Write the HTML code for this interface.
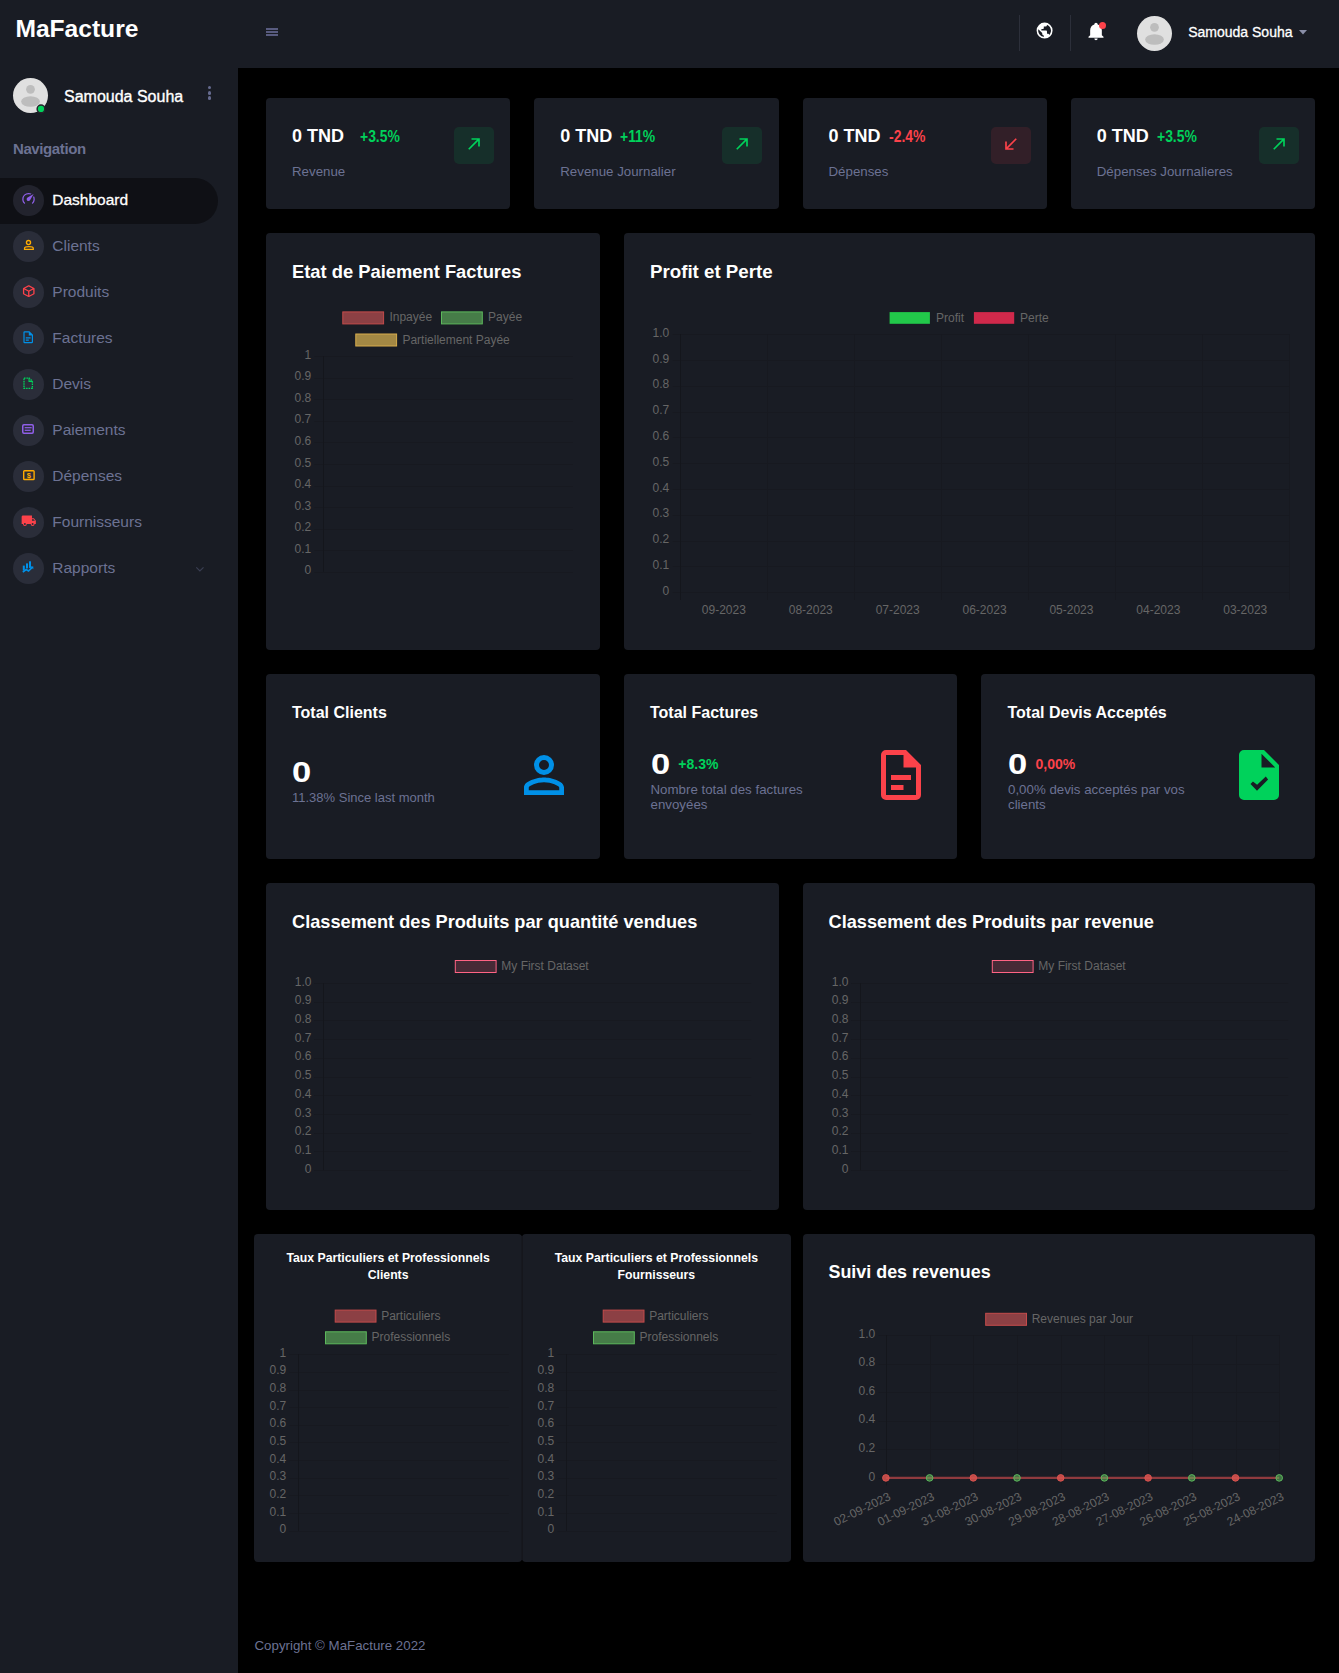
<!DOCTYPE html><html lang="fr"><head><meta charset="utf-8"><title>MaFacture - Dashboard</title>
<style>
*{margin:0;padding:0;box-sizing:border-box}
html,body{width:1339px;height:1673px;overflow:hidden;background:#000;font-family:"Liberation Sans",Arial,sans-serif}
.t{position:absolute;line-height:1;white-space:nowrap}
.b{position:absolute}
svg{position:absolute;overflow:visible}
.card{position:absolute;background:#191c24;border-radius:4px}
</style></head><body>

<div class="b" style="left:0px;top:0px;width:238px;height:1673px;background:#191c24;"></div>
<div class="b" style="left:0px;top:0px;width:1339px;height:68px;background:#191c24;"></div>
<div class="t" style="left:15.40px;top:16.78px;font-size:24.6px;color:#fff;font-weight:700;">MaFacture</div>
<div class="b" style="left:266px;top:28px;width:12px;height:2px;background:#585b7f;"></div>
<div class="b" style="left:266px;top:31px;width:12px;height:2px;background:#585b7f;"></div>
<div class="b" style="left:266px;top:34px;width:12px;height:2px;background:#585b7f;"></div>
<div class="b" style="left:1019px;top:15px;width:1px;height:36px;background:#2c2f3a;"></div>
<div class="b" style="left:1070px;top:15px;width:1px;height:36px;background:#2c2f3a;"></div>
<svg style="left:1035.4px;top:21.1px" width="19.2" height="19.2" viewBox="0 0 24 24"><path fill="#fff" d="M17.9,17.39C17.64,16.59 16.89,16 16,16H15V13A1,1 0 0,0 14,12H8V10H10A1,1 0 0,0 11,9V7H13A2,2 0 0,0 15,5V4.59C17.93,5.77 20,8.64 20,12C20,14.08 19.2,15.97 17.9,17.39M11,19.93C7.05,19.44 4,16.08 4,12C4,11.38 4.08,10.78 4.21,10.21L9,15V16A2,2 0 0,0 11,18M12,2A10,10 0 0,0 2,12A10,10 0 0,0 12,22A10,10 0 0,0 22,12A10,10 0 0,0 12,2Z"/></svg>
<svg style="left:1086px;top:21px" width="20" height="20" viewBox="0 0 24 24"><path fill="#fff" d="M21,19V20H3V19L5,17V11C5,7.9 7.03,5.17 10,4.29C10,4.19 10,4.1 10,4A2,2 0 0,1 12,2A2,2 0 0,1 14,4C14,4.1 14,4.19 14,4.29C16.97,5.17 19,7.9 19,11V17L21,19M14,21A2,2 0 0,1 12,23A2,2 0 0,1 10,21"/></svg>
<div class="b" style="left:1098.9px;top:21.9px;width:7px;height:7px;border-radius:50%;background:#fc424a"></div>
<svg style="left:1137.0px;top:15.799999999999997px" width="35.0" height="35.0" viewBox="0 0 35 35"><circle cx="17.5" cy="17.5" r="17.5" fill="#e0e0e0"/><circle cx="17.5" cy="11.3" r="4.4" fill="#bdbdbd"/><ellipse cx="17.5" cy="23.5" rx="9.4" ry="5.3" fill="#bdbdbd"/></svg>
<div class="t" style="left:1188.20px;top:24.95px;font-size:14px;color:#fff;font-weight:400;-webkit-text-stroke:0.3px #fff;">Samouda Souha</div>
<svg style="left:1299px;top:30px" width="8" height="4.5" viewBox="0 0 8 4.5"><path d="M0,0H8L4,4.5Z" fill="#8a8fa8"/></svg>
<svg style="left:13.0px;top:78.0px" width="35.0" height="35.0" viewBox="0 0 35 35"><circle cx="17.5" cy="17.5" r="17.5" fill="#e0e0e0"/><circle cx="17.5" cy="11.3" r="4.4" fill="#bdbdbd"/><ellipse cx="17.5" cy="23.5" rx="9.4" ry="5.3" fill="#bdbdbd"/></svg>
<svg style="left:35px;top:103px" width="12" height="12" viewBox="0 0 12 12"><circle cx="6" cy="5.9" r="3.85" fill="#00d25b" stroke="#25242c" stroke-width="1.5"/></svg>
<div class="t" style="left:64.00px;top:88.76px;font-size:16px;color:#fff;font-weight:400;-webkit-text-stroke:0.35px #fff;">Samouda Souha</div>
<div class="b" style="left:207.5px;top:86.1px;width:3.4px;height:3.4px;border-radius:50%;background:#666b8f"></div>
<div class="b" style="left:207.5px;top:91.2px;width:3.4px;height:3.4px;border-radius:50%;background:#666b8f"></div>
<div class="b" style="left:207.5px;top:96.2px;width:3.4px;height:3.4px;border-radius:50%;background:#666b8f"></div>
<div class="t" style="left:13.00px;top:140.60px;font-size:15px;color:#6c7293;font-weight:700;letter-spacing:-0.4px;">Navigation</div>
<div class="b" style="left:0;top:178px;width:218px;height:46px;background:#0f1015;border-radius:0 23px 23px 0"></div>
<div class="b" style="left:13px;top:185.0px;width:31px;height:31px;border-radius:50%;background:rgba(108,114,147,0.2)"></div>
<div class="t" style="left:52.30px;top:191.98px;font-size:15.5px;color:#fff;font-weight:400;-webkit-text-stroke:0.3px #fff;">Dashboard</div>
<div class="b" style="left:13px;top:231.0px;width:31px;height:31px;border-radius:50%;background:rgba(108,114,147,0.2)"></div>
<div class="t" style="left:52.30px;top:237.98px;font-size:15.5px;color:#6c7293;font-weight:400;">Clients</div>
<div class="b" style="left:13px;top:277.0px;width:31px;height:31px;border-radius:50%;background:rgba(108,114,147,0.2)"></div>
<div class="t" style="left:52.30px;top:283.98px;font-size:15.5px;color:#6c7293;font-weight:400;">Produits</div>
<div class="b" style="left:13px;top:323.0px;width:31px;height:31px;border-radius:50%;background:rgba(108,114,147,0.2)"></div>
<div class="t" style="left:52.30px;top:329.98px;font-size:15.5px;color:#6c7293;font-weight:400;">Factures</div>
<div class="b" style="left:13px;top:369.0px;width:31px;height:31px;border-radius:50%;background:rgba(108,114,147,0.2)"></div>
<div class="t" style="left:52.30px;top:375.98px;font-size:15.5px;color:#6c7293;font-weight:400;">Devis</div>
<div class="b" style="left:13px;top:415.0px;width:31px;height:31px;border-radius:50%;background:rgba(108,114,147,0.2)"></div>
<div class="t" style="left:52.30px;top:421.98px;font-size:15.5px;color:#6c7293;font-weight:400;">Paiements</div>
<div class="b" style="left:13px;top:461.0px;width:31px;height:31px;border-radius:50%;background:rgba(108,114,147,0.2)"></div>
<div class="t" style="left:52.30px;top:467.98px;font-size:15.5px;color:#6c7293;font-weight:400;">Dépenses</div>
<div class="b" style="left:13px;top:507.0px;width:31px;height:31px;border-radius:50%;background:rgba(108,114,147,0.2)"></div>
<div class="t" style="left:52.30px;top:513.98px;font-size:15.5px;color:#6c7293;font-weight:400;">Fournisseurs</div>
<div class="b" style="left:13px;top:553.0px;width:31px;height:31px;border-radius:50%;background:rgba(108,114,147,0.2)"></div>
<div class="t" style="left:52.30px;top:559.98px;font-size:15.5px;color:#6c7293;font-weight:400;">Rapports</div>
<svg style="left:20.9px;top:190.9px" width="15" height="15" viewBox="0 0 24 24"><path fill="#8f5fe8" d="M12,16A3,3 0 0,1 9,13C9,11.88 9.61,10.9 10.5,10.39L20.21,4.77L14.68,14.35C14.18,15.33 13.17,16 12,16M12,3C13.81,3 15.5,3.5 16.97,4.32L14.87,5.53C14,5.19 13,5 12,5A8,8 0 0,0 4,13C4,15.21 4.89,17.21 6.34,18.65H6.35C6.74,19.04 6.74,19.67 6.35,20.06C5.96,20.45 5.32,20.45 4.93,20.07V20.07C3.12,18.26 2,15.76 2,13A10,10 0 0,1 12,3M22,13C22,15.76 20.88,18.26 19.07,20.07V20.07C18.68,20.45 18.05,20.45 17.66,20.06C17.27,19.67 17.27,19.04 17.66,18.65V18.65C19.11,17.2 20,15.21 20,13C20,12 19.81,11 19.46,10.1L20.67,8C21.5,9.5 22,11.18 22,13Z"/></svg>
<svg style="left:20px;top:237px" width="17" height="16" viewBox="20 237 17 16"><circle cx="28.5" cy="242.5" r="2.05" fill="none" stroke="#ffab00" stroke-width="1.35"/><path d="M24.55,249.45V248.2C24.55,247.2 26.5,246.6 28.9,246.6C31.3,246.6 33.25,247.2 33.25,248.2V249.45Z" fill="none" stroke="#ffab00" stroke-width="1.3"/></svg>
<svg style="left:20.9px;top:283.9px" width="15.5" height="14.2" viewBox="0 0 24 24" preserveAspectRatio="none"><path fill="#fc424a" d="M21,16.5C21,16.88 20.79,17.21 20.47,17.38L12.57,21.82C12.41,21.94 12.21,22 12,22C11.79,22 11.59,21.94 11.43,21.82L3.53,17.38C3.21,17.21 3,16.88 3,16.5V7.5C3,7.12 3.21,6.79 3.53,6.62L11.43,2.18C11.59,2.06 11.79,2 12,2C12.21,2 12.41,2.06 12.57,2.18L20.47,6.62C20.79,6.79 21,7.12 21,7.5V16.5M12,4.15L6.04,7.5L12,10.85L17.96,7.5L12,4.15M5,15.91L11,19.29V12.58L5,9.21V15.91M19,15.91V9.21L13,12.58V19.29L19,15.91Z"/></svg>
<svg style="left:21px;top:329.8px" width="14.4" height="14.4" viewBox="0 0 24 24"><path fill="#0090e7" d="M6,2A2,2 0 0,0 4,4V20A2,2 0 0,0 6,22H18A2,2 0 0,0 20,20V8L14,2H6M6,4H13V9H18V20H6V4M8,12V14H16V12H8M8,16V18H13V16H8Z"/></svg>
<svg style="left:21.2px;top:375.8px" width="14.4" height="14.4" viewBox="0 0 24 24"><path fill="none" stroke="#00d25b" stroke-width="2.2" stroke-dasharray="2.6 1.4" d="M5,3.4H13.6L19,8.8V20.6H5Z"/><path fill="#00d25b" d="M12.5,3H14.3V8H19V10H12.5Z"/></svg>
<svg style="left:22.2px;top:423.9px" width="12" height="10" viewBox="0 12 10"><rect x="0.75" y="0.75" width="10.5" height="8.5" rx="1.2" fill="none" stroke="#8f5fe8" stroke-width="1.5"/><rect x="2.7" y="3.1" width="7" height="1.2" fill="#8f5fe8"/><rect x="2.7" y="5.7" width="6" height="1.2" fill="#8f5fe8"/></svg>
<svg style="left:22.9px;top:469.9px" width="11.8" height="10.2" viewBox="0 11.8 10.2"><rect x="0.7" y="0.7" width="10.4" height="8.8" rx="0.8" fill="none" stroke="#ffab00" stroke-width="1.4"/><text x="5.9" y="8.1" font-size="7.5" font-weight="700" text-anchor="middle" fill="#ffab00" font-family="Liberation Sans, sans-serif">$</text></svg>
<svg style="left:21.35px;top:513.3px" width="15.5" height="15.5" viewBox="0 0 24 24"><path fill="#fc424a" d="M18,18.5A1.5,1.5 0 0,1 16.5,17A1.5,1.5 0 0,1 18,15.5A1.5,1.5 0 0,1 19.5,17A1.5,1.5 0 0,1 18,18.5M19.5,9.5L21.46,12H17V9.5M6,18.5A1.5,1.5 0 0,1 4.5,17A1.5,1.5 0 0,1 6,15.5A1.5,1.5 0 0,1 7.5,17A1.5,1.5 0 0,1 6,18.5M20,8H17V4H3C1.89,4 1,4.89 1,6V17H3A3,3 0 0,0 6,20A3,3 0 0,0 9,17H15A3,3 0 0,0 18,20A3,3 0 0,0 21,17H23V12L20,8Z"/></svg>
<svg style="left:22.3px;top:561px" width="12.5" height="12.5" viewBox="0 12 12"><rect x="0.8" y="4.6" width="2" height="5" fill="#0090e7"/><rect x="4" y="2.4" width="2" height="5" fill="#0090e7"/><rect x="7" y="0.3" width="2" height="6.6" fill="#0090e7"/><path d="M0.8,11.2L4.2,8.5L6.5,10L10.5,6.2" fill="none" stroke="#0090e7" stroke-width="1.6"/><path d="M8.6,5.5H11.3V8.2Z" fill="#0090e7"/></svg>
<svg style="left:195px;top:566px" width="10" height="6" viewBox="0 0 10 6"><path d="M1.3,1.3L4.9,4.9L8.5,1.3" fill="none" stroke="#3a3e52" stroke-width="1.2"/></svg>
<div class="card" style="left:266px;top:98px;width:244.25px;height:110.80000000000001px"></div>
<div class="card" style="left:534.25px;top:98px;width:244.25px;height:110.80000000000001px"></div>
<div class="card" style="left:802.5px;top:98px;width:244.25px;height:110.80000000000001px"></div>
<div class="card" style="left:1070.75px;top:98px;width:244.25px;height:110.80000000000001px"></div>
<div class="card" style="left:266px;top:233px;width:333.66999999999996px;height:417px"></div>
<div class="card" style="left:623.67px;top:233px;width:691.33px;height:417px"></div>
<div class="card" style="left:266px;top:674px;width:333.66999999999996px;height:184.79999999999995px"></div>
<div class="card" style="left:623.67px;top:674px;width:333.6600000000001px;height:184.79999999999995px"></div>
<div class="card" style="left:981.33px;top:674px;width:333.66999999999996px;height:184.79999999999995px"></div>
<div class="card" style="left:266px;top:883px;width:512.5px;height:327px"></div>
<div class="card" style="left:802.5px;top:883px;width:512.5px;height:327px"></div>
<div class="card" style="left:254px;top:1234px;width:268.25px;height:328px"></div>
<div class="card" style="left:522.25px;top:1234px;width:268.25px;height:328px"></div>
<div class="card" style="left:802.5px;top:1234px;width:512.5px;height:328px"></div>
<div class="b" style="left:521px;top:1236px;width:1px;height:324px;background:#16181f"></div>
<div class="b" style="left:522px;top:1236px;width:1px;height:324px;background:#15161c"></div>
<div class="t" style="left:292.00px;top:127.46px;font-size:18px;color:#fff;font-weight:700;">0 TND</div>
<div class="t" style="left:360.00px;top:129.26px;font-size:16px;color:#00d25b;font-weight:700;transform:scaleX(0.87);transform-origin:0 0;">+3.5%</div>
<div class="t" style="left:292.00px;top:165.14px;font-size:13.3px;color:#6c7293;font-weight:400;">Revenue</div>
<div class="b" style="left:454px;top:126.8px;width:40px;height:37px;border-radius:5px;background:rgba(0,210,91,0.11)"></div>
<svg style="left:464px;top:133.9px" width="20" height="20" viewBox="0 0 24 24"><path fill="#00d25b" d="M5,17.59L15.59,7H9V5H19V15H17V8.41L6.41,19L5,17.59Z"/></svg>
<div class="t" style="left:560.25px;top:127.46px;font-size:18px;color:#fff;font-weight:700;">0 TND</div>
<div class="t" style="left:619.95px;top:129.26px;font-size:16px;color:#00d25b;font-weight:700;transform:scaleX(0.87);transform-origin:0 0;">+11%</div>
<div class="t" style="left:560.25px;top:165.14px;font-size:13.3px;color:#6c7293;font-weight:400;">Revenue Journalier</div>
<div class="b" style="left:722.25px;top:126.8px;width:40px;height:37px;border-radius:5px;background:rgba(0,210,91,0.11)"></div>
<svg style="left:732.25px;top:133.9px" width="20" height="20" viewBox="0 0 24 24"><path fill="#00d25b" d="M5,17.59L15.59,7H9V5H19V15H17V8.41L6.41,19L5,17.59Z"/></svg>
<div class="t" style="left:828.50px;top:127.46px;font-size:18px;color:#fff;font-weight:700;">0 TND</div>
<div class="t" style="left:889.00px;top:129.26px;font-size:16px;color:#fc424a;font-weight:700;transform:scaleX(0.87);transform-origin:0 0;">-2.4%</div>
<div class="t" style="left:828.50px;top:165.14px;font-size:13.3px;color:#6c7293;font-weight:400;">Dépenses</div>
<div class="b" style="left:990.5px;top:126.8px;width:40px;height:37px;border-radius:5px;background:rgba(252,66,74,0.11)"></div>
<svg style="left:1000.5px;top:133.9px" width="20" height="20" viewBox="0 0 24 24"><path fill="#fc424a" d="M19,6.41L17.59,5L7,15.59V9H5V19H15V17H8.41L19,6.41Z"/></svg>
<div class="t" style="left:1096.75px;top:127.46px;font-size:18px;color:#fff;font-weight:700;">0 TND</div>
<div class="t" style="left:1156.95px;top:129.26px;font-size:16px;color:#00d25b;font-weight:700;transform:scaleX(0.87);transform-origin:0 0;">+3.5%</div>
<div class="t" style="left:1096.75px;top:165.14px;font-size:13.3px;color:#6c7293;font-weight:400;">Dépenses Journalieres</div>
<div class="b" style="left:1258.75px;top:126.8px;width:40px;height:37px;border-radius:5px;background:rgba(0,210,91,0.11)"></div>
<svg style="left:1268.75px;top:133.9px" width="20" height="20" viewBox="0 0 24 24"><path fill="#00d25b" d="M5,17.59L15.59,7H9V5H19V15H17V8.41L6.41,19L5,17.59Z"/></svg>
<div class="t" style="left:292.00px;top:262.87px;font-size:18.35px;color:#fff;font-weight:700;">Etat de Paiement Factures</div>
<div class="t" style="left:650.00px;top:262.67px;font-size:18.7px;color:#fff;font-weight:700;">Profit et Perte</div>
<div class="t" style="left:292.00px;top:704.76px;font-size:16px;color:#fff;font-weight:700;">Total Clients</div>
<div class="t" style="left:650.00px;top:704.76px;font-size:16px;color:#fff;font-weight:700;">Total Factures</div>
<div class="t" style="left:1007.50px;top:704.76px;font-size:16px;color:#fff;font-weight:700;">Total Devis Acceptés</div>
<div class="t" style="left:292.30px;top:756.71px;font-size:30px;color:#fff;font-weight:700;transform:scaleX(1.15);transform-origin:0 0;">0</div>
<div class="t" style="left:292.00px;top:790.70px;font-size:13px;color:#6c7293;font-weight:400;">11.38% Since last month</div>
<div class="t" style="left:650.60px;top:748.71px;font-size:30px;color:#fff;font-weight:700;transform:scaleX(1.15);transform-origin:0 0;">0</div>
<div class="t" style="left:678.30px;top:756.65px;font-size:14px;color:#00d25b;font-weight:700;">+8.3%</div>
<div class="t" style="left:650.50px;top:782.54px;font-size:13.3px;color:#6c7293;font-weight:400;">Nombre total des factures</div>
<div class="t" style="left:650.50px;top:798.04px;font-size:13.3px;color:#6c7293;font-weight:400;">envoyées</div>
<div class="t" style="left:1008.00px;top:748.71px;font-size:30px;color:#fff;font-weight:700;transform:scaleX(1.15);transform-origin:0 0;">0</div>
<div class="t" style="left:1035.50px;top:756.65px;font-size:14px;color:#fc424a;font-weight:700;">0,00%</div>
<div class="t" style="left:1008.00px;top:782.54px;font-size:13.3px;color:#6c7293;font-weight:400;">0,00% devis acceptés par vos</div>
<div class="t" style="left:1008.00px;top:798.04px;font-size:13.3px;color:#6c7293;font-weight:400;">clients</div>
<svg style="left:513.7px;top:745px" width="60" height="60" viewBox="0 0 24 24"><path fill="#0090e7" d="M12,4A4,4 0 0,1 16,8A4,4 0 0,1 12,12A4,4 0 0,1 8,8A4,4 0 0,1 12,4M12,6A2,2 0 0,0 10,8A2,2 0 0,0 12,10A2,2 0 0,0 14,8A2,2 0 0,0 12,6M12,13C14.67,13 20,14.33 20,17V20H4V17C4,14.33 9.33,13 12,13M12,14.9C9.03,14.9 5.9,16.36 5.9,17V18.1H18.1V17C18.1,16.36 14.97,14.9 12,14.9Z"/></svg>
<svg style="left:871.2px;top:744.8px" width="60" height="60" viewBox="0 0 24 24"><path fill="#fc424a" d="M6,2A2,2 0 0,0 4,4V20A2,2 0 0,0 6,22H18A2,2 0 0,0 20,20V8L14,2H6M6,4H13V9H18V20H6V4M8,12V14H16V12H8M8,16V18H13V16H8Z"/></svg>
<svg style="left:1229px;top:744.8px" width="60" height="60" viewBox="0 0 24 24"><path fill="#00d25b" d="M14,2H6A2,2 0 0,0 4,4V20A2,2 0 0,0 6,22H18A2,2 0 0,0 20,20V8L14,2M13,9V3.5L18.5,9H13Z"/><path fill="#191c24" d="M8.6,15.56L11.2,18.28L15.64,13.8L14.72,12.6L11.24,15.92L9.58,14.64Z"/></svg>
<div class="t" style="left:292.00px;top:913.39px;font-size:18.2px;color:#fff;font-weight:700;">Classement des Produits par quantité vendues</div>
<div class="t" style="left:828.50px;top:913.39px;font-size:18.2px;color:#fff;font-weight:700;">Classement des Produits par revenue</div>
<div class="t" style="left:258.10px;width:260px;text-align:center;top:1252.43px;font-size:12.25px;color:#fff;font-weight:700;">Taux Particuliers et Professionnels</div>
<div class="t" style="left:258.10px;width:260px;text-align:center;top:1268.93px;font-size:12.25px;color:#fff;font-weight:700;">Clients</div>
<div class="t" style="left:526.40px;width:260px;text-align:center;top:1252.43px;font-size:12.25px;color:#fff;font-weight:700;">Taux Particuliers et Professionnels</div>
<div class="t" style="left:526.40px;width:260px;text-align:center;top:1268.93px;font-size:12.25px;color:#fff;font-weight:700;">Fournisseurs</div>
<div class="t" style="left:828.50px;top:1264.45px;font-size:17.9px;color:#fff;font-weight:700;">Suivi des revenues</div>
<div class="t" style="left:254.50px;top:1639.14px;font-size:13.3px;color:#6c7293;font-weight:400;">Copyright © MaFacture 2022</div>
<svg style="left:0;top:0" width="1339" height="1673" viewBox="0 0 1339 1673" font-family="Liberation Sans, Arial, sans-serif" font-size="12" fill="#666"><rect x="342.80" y="311.90" width="40.8" height="12" fill="rgba(255,99,99,0.5)" stroke="#c44b4b" stroke-width="1"/><text x="389.40" y="321.40" text-anchor="start" >Inpayée</text><rect x="441.50" y="311.90" width="40.8" height="12" fill="#467c48" stroke="#5cb85c" stroke-width="1"/><text x="488.10" y="321.40" text-anchor="start" >Payée</text><rect x="355.80" y="334.00" width="40.8" height="12" fill="#a38844" stroke="#d8ac4c" stroke-width="1"/><text x="402.40" y="343.50" text-anchor="start" >Partiellement Payée</text><line x1="314.40" y1="356.50" x2="573.00" y2="356.50" stroke="#171920" stroke-width="1"/><text x="311.30" y="358.80" text-anchor="end" >1</text><line x1="314.40" y1="378.50" x2="573.00" y2="378.50" stroke="#171920" stroke-width="1"/><text x="311.30" y="380.35" text-anchor="end" >0.9</text><line x1="314.40" y1="399.50" x2="573.00" y2="399.50" stroke="#171920" stroke-width="1"/><text x="311.30" y="401.90" text-anchor="end" >0.8</text><line x1="314.40" y1="421.50" x2="573.00" y2="421.50" stroke="#171920" stroke-width="1"/><text x="311.30" y="423.45" text-anchor="end" >0.7</text><line x1="314.40" y1="442.50" x2="573.00" y2="442.50" stroke="#171920" stroke-width="1"/><text x="311.30" y="445.00" text-anchor="end" >0.6</text><line x1="314.40" y1="464.50" x2="573.00" y2="464.50" stroke="#171920" stroke-width="1"/><text x="311.30" y="466.55" text-anchor="end" >0.5</text><line x1="314.40" y1="486.50" x2="573.00" y2="486.50" stroke="#171920" stroke-width="1"/><text x="311.30" y="488.10" text-anchor="end" >0.4</text><line x1="314.40" y1="507.50" x2="573.00" y2="507.50" stroke="#171920" stroke-width="1"/><text x="311.30" y="509.65" text-anchor="end" >0.3</text><line x1="314.40" y1="529.50" x2="573.00" y2="529.50" stroke="#171920" stroke-width="1"/><text x="311.30" y="531.20" text-anchor="end" >0.2</text><line x1="314.40" y1="550.50" x2="573.00" y2="550.50" stroke="#171920" stroke-width="1"/><text x="311.30" y="552.75" text-anchor="end" >0.1</text><line x1="314.40" y1="572.50" x2="573.00" y2="572.50" stroke="#171920" stroke-width="1"/><text x="311.30" y="574.30" text-anchor="end" >0</text><line x1="323.50" y1="356.20" x2="323.50" y2="571.70" stroke="#14161c" stroke-width="1"/><rect x="889.60" y="312.10" width="40.3" height="11.7" fill="#22c84a"/><text x="936.00" y="321.60" text-anchor="start" >Profit</text><rect x="973.90" y="312.10" width="40.3" height="11.7" fill="#d0294b"/><text x="1020.00" y="321.60" text-anchor="start" >Perte</text><line x1="672.80" y1="334.50" x2="1288.70" y2="334.50" stroke="#171920" stroke-width="1"/><text x="669.20" y="336.80" text-anchor="end" >1.0</text><line x1="672.80" y1="360.50" x2="1288.70" y2="360.50" stroke="#171920" stroke-width="1"/><text x="669.20" y="362.59" text-anchor="end" >0.9</text><line x1="672.80" y1="386.50" x2="1288.70" y2="386.50" stroke="#171920" stroke-width="1"/><text x="669.20" y="388.38" text-anchor="end" >0.8</text><line x1="672.80" y1="412.50" x2="1288.70" y2="412.50" stroke="#171920" stroke-width="1"/><text x="669.20" y="414.17" text-anchor="end" >0.7</text><line x1="672.80" y1="437.50" x2="1288.70" y2="437.50" stroke="#171920" stroke-width="1"/><text x="669.20" y="439.96" text-anchor="end" >0.6</text><line x1="672.80" y1="463.50" x2="1288.70" y2="463.50" stroke="#171920" stroke-width="1"/><text x="669.20" y="465.75" text-anchor="end" >0.5</text><line x1="672.80" y1="489.50" x2="1288.70" y2="489.50" stroke="#171920" stroke-width="1"/><text x="669.20" y="491.54" text-anchor="end" >0.4</text><line x1="672.80" y1="515.50" x2="1288.70" y2="515.50" stroke="#171920" stroke-width="1"/><text x="669.20" y="517.33" text-anchor="end" >0.3</text><line x1="672.80" y1="541.50" x2="1288.70" y2="541.50" stroke="#171920" stroke-width="1"/><text x="669.20" y="543.12" text-anchor="end" >0.2</text><line x1="672.80" y1="566.50" x2="1288.70" y2="566.50" stroke="#171920" stroke-width="1"/><text x="669.20" y="568.91" text-anchor="end" >0.1</text><line x1="672.80" y1="592.50" x2="1288.70" y2="592.50" stroke="#171920" stroke-width="1"/><text x="669.20" y="594.70" text-anchor="end" >0</text><line x1="680.50" y1="334.20" x2="680.50" y2="592.10" stroke="#14161c" stroke-width="1"/><line x1="680.50" y1="334.20" x2="680.50" y2="600.00" stroke="#14161c" stroke-width="1"/><line x1="767.50" y1="334.20" x2="767.50" y2="600.00" stroke="#171920" stroke-width="1"/><line x1="854.50" y1="334.20" x2="854.50" y2="600.00" stroke="#171920" stroke-width="1"/><line x1="941.50" y1="334.20" x2="941.50" y2="600.00" stroke="#171920" stroke-width="1"/><line x1="1028.50" y1="334.20" x2="1028.50" y2="600.00" stroke="#171920" stroke-width="1"/><line x1="1115.50" y1="334.20" x2="1115.50" y2="600.00" stroke="#171920" stroke-width="1"/><line x1="1202.50" y1="334.20" x2="1202.50" y2="600.00" stroke="#171920" stroke-width="1"/><line x1="1289.50" y1="334.20" x2="1289.50" y2="600.00" stroke="#171920" stroke-width="1"/><text x="723.85" y="613.80" text-anchor="middle" >09-2023</text><text x="810.75" y="613.80" text-anchor="middle" >08-2023</text><text x="897.65" y="613.80" text-anchor="middle" >07-2023</text><text x="984.55" y="613.80" text-anchor="middle" >06-2023</text><text x="1071.45" y="613.80" text-anchor="middle" >05-2023</text><text x="1158.35" y="613.80" text-anchor="middle" >04-2023</text><text x="1245.25" y="613.80" text-anchor="middle" >03-2023</text><rect x="455.30" y="960.50" width="40.8" height="12" fill="rgba(255,99,132,0.2)" stroke="rgb(255,99,132)" stroke-width="1"/><text x="501.30" y="970.20" text-anchor="start" >My First Dataset</text><line x1="314.10" y1="983.50" x2="751.10" y2="983.50" stroke="#171920" stroke-width="1"/><text x="311.40" y="985.60" text-anchor="end" >1.0</text><line x1="314.10" y1="1002.50" x2="751.10" y2="1002.50" stroke="#171920" stroke-width="1"/><text x="311.40" y="1004.31" text-anchor="end" >0.9</text><line x1="314.10" y1="1020.50" x2="751.10" y2="1020.50" stroke="#171920" stroke-width="1"/><text x="311.40" y="1023.01" text-anchor="end" >0.8</text><line x1="314.10" y1="1039.50" x2="751.10" y2="1039.50" stroke="#171920" stroke-width="1"/><text x="311.40" y="1041.71" text-anchor="end" >0.7</text><line x1="314.10" y1="1058.50" x2="751.10" y2="1058.50" stroke="#171920" stroke-width="1"/><text x="311.40" y="1060.42" text-anchor="end" >0.6</text><line x1="314.10" y1="1077.50" x2="751.10" y2="1077.50" stroke="#171920" stroke-width="1"/><text x="311.40" y="1079.12" text-anchor="end" >0.5</text><line x1="314.10" y1="1095.50" x2="751.10" y2="1095.50" stroke="#171920" stroke-width="1"/><text x="311.40" y="1097.83" text-anchor="end" >0.4</text><line x1="314.10" y1="1114.50" x2="751.10" y2="1114.50" stroke="#171920" stroke-width="1"/><text x="311.40" y="1116.53" text-anchor="end" >0.3</text><line x1="314.10" y1="1133.50" x2="751.10" y2="1133.50" stroke="#171920" stroke-width="1"/><text x="311.40" y="1135.24" text-anchor="end" >0.2</text><line x1="314.10" y1="1151.50" x2="751.10" y2="1151.50" stroke="#171920" stroke-width="1"/><text x="311.40" y="1153.94" text-anchor="end" >0.1</text><line x1="314.10" y1="1170.50" x2="751.10" y2="1170.50" stroke="#171920" stroke-width="1"/><text x="311.40" y="1172.65" text-anchor="end" >0</text><line x1="323.50" y1="983.00" x2="323.50" y2="1170.05" stroke="#14161c" stroke-width="1"/><rect x="992.30" y="960.50" width="40.8" height="12" fill="rgba(255,99,132,0.2)" stroke="rgb(255,99,132)" stroke-width="1"/><text x="1038.30" y="970.20" text-anchor="start" >My First Dataset</text><line x1="851.10" y1="983.50" x2="1288.10" y2="983.50" stroke="#171920" stroke-width="1"/><text x="848.40" y="985.60" text-anchor="end" >1.0</text><line x1="851.10" y1="1002.50" x2="1288.10" y2="1002.50" stroke="#171920" stroke-width="1"/><text x="848.40" y="1004.31" text-anchor="end" >0.9</text><line x1="851.10" y1="1020.50" x2="1288.10" y2="1020.50" stroke="#171920" stroke-width="1"/><text x="848.40" y="1023.01" text-anchor="end" >0.8</text><line x1="851.10" y1="1039.50" x2="1288.10" y2="1039.50" stroke="#171920" stroke-width="1"/><text x="848.40" y="1041.71" text-anchor="end" >0.7</text><line x1="851.10" y1="1058.50" x2="1288.10" y2="1058.50" stroke="#171920" stroke-width="1"/><text x="848.40" y="1060.42" text-anchor="end" >0.6</text><line x1="851.10" y1="1077.50" x2="1288.10" y2="1077.50" stroke="#171920" stroke-width="1"/><text x="848.40" y="1079.12" text-anchor="end" >0.5</text><line x1="851.10" y1="1095.50" x2="1288.10" y2="1095.50" stroke="#171920" stroke-width="1"/><text x="848.40" y="1097.83" text-anchor="end" >0.4</text><line x1="851.10" y1="1114.50" x2="1288.10" y2="1114.50" stroke="#171920" stroke-width="1"/><text x="848.40" y="1116.53" text-anchor="end" >0.3</text><line x1="851.10" y1="1133.50" x2="1288.10" y2="1133.50" stroke="#171920" stroke-width="1"/><text x="848.40" y="1135.24" text-anchor="end" >0.2</text><line x1="851.10" y1="1151.50" x2="1288.10" y2="1151.50" stroke="#171920" stroke-width="1"/><text x="848.40" y="1153.94" text-anchor="end" >0.1</text><line x1="851.10" y1="1170.50" x2="1288.10" y2="1170.50" stroke="#171920" stroke-width="1"/><text x="848.40" y="1172.65" text-anchor="end" >0</text><line x1="860.50" y1="983.00" x2="860.50" y2="1170.05" stroke="#14161c" stroke-width="1"/><rect x="335.20" y="1310.10" width="40.8" height="12" fill="rgba(255,99,99,0.5)" stroke="#c44b4b" stroke-width="1"/><text x="381.20" y="1319.60" text-anchor="start" >Particuliers</text><rect x="325.50" y="1331.80" width="40.8" height="12" fill="#467c48" stroke="#5cb85c" stroke-width="1"/><text x="371.50" y="1341.30" text-anchor="start" >Professionnels</text><line x1="289.50" y1="1354.50" x2="508.60" y2="1354.50" stroke="#171920" stroke-width="1"/><text x="286.20" y="1356.80" text-anchor="end" >1</text><line x1="289.50" y1="1372.50" x2="508.60" y2="1372.50" stroke="#171920" stroke-width="1"/><text x="286.20" y="1374.46" text-anchor="end" >0.9</text><line x1="289.50" y1="1390.50" x2="508.60" y2="1390.50" stroke="#171920" stroke-width="1"/><text x="286.20" y="1392.12" text-anchor="end" >0.8</text><line x1="289.50" y1="1407.50" x2="508.60" y2="1407.50" stroke="#171920" stroke-width="1"/><text x="286.20" y="1409.78" text-anchor="end" >0.7</text><line x1="289.50" y1="1425.50" x2="508.60" y2="1425.50" stroke="#171920" stroke-width="1"/><text x="286.20" y="1427.44" text-anchor="end" >0.6</text><line x1="289.50" y1="1442.50" x2="508.60" y2="1442.50" stroke="#171920" stroke-width="1"/><text x="286.20" y="1445.10" text-anchor="end" >0.5</text><line x1="289.50" y1="1460.50" x2="508.60" y2="1460.50" stroke="#171920" stroke-width="1"/><text x="286.20" y="1462.76" text-anchor="end" >0.4</text><line x1="289.50" y1="1478.50" x2="508.60" y2="1478.50" stroke="#171920" stroke-width="1"/><text x="286.20" y="1480.42" text-anchor="end" >0.3</text><line x1="289.50" y1="1495.50" x2="508.60" y2="1495.50" stroke="#171920" stroke-width="1"/><text x="286.20" y="1498.08" text-anchor="end" >0.2</text><line x1="289.50" y1="1513.50" x2="508.60" y2="1513.50" stroke="#171920" stroke-width="1"/><text x="286.20" y="1515.74" text-anchor="end" >0.1</text><line x1="289.50" y1="1531.50" x2="508.60" y2="1531.50" stroke="#171920" stroke-width="1"/><text x="286.20" y="1533.40" text-anchor="end" >0</text><line x1="298.50" y1="1354.20" x2="298.50" y2="1530.80" stroke="#14161c" stroke-width="1"/><rect x="603.20" y="1310.10" width="40.8" height="12" fill="rgba(255,99,99,0.5)" stroke="#c44b4b" stroke-width="1"/><text x="649.20" y="1319.60" text-anchor="start" >Particuliers</text><rect x="593.50" y="1331.80" width="40.8" height="12" fill="#467c48" stroke="#5cb85c" stroke-width="1"/><text x="639.50" y="1341.30" text-anchor="start" >Professionnels</text><line x1="557.50" y1="1354.50" x2="776.60" y2="1354.50" stroke="#171920" stroke-width="1"/><text x="554.20" y="1356.80" text-anchor="end" >1</text><line x1="557.50" y1="1372.50" x2="776.60" y2="1372.50" stroke="#171920" stroke-width="1"/><text x="554.20" y="1374.46" text-anchor="end" >0.9</text><line x1="557.50" y1="1390.50" x2="776.60" y2="1390.50" stroke="#171920" stroke-width="1"/><text x="554.20" y="1392.12" text-anchor="end" >0.8</text><line x1="557.50" y1="1407.50" x2="776.60" y2="1407.50" stroke="#171920" stroke-width="1"/><text x="554.20" y="1409.78" text-anchor="end" >0.7</text><line x1="557.50" y1="1425.50" x2="776.60" y2="1425.50" stroke="#171920" stroke-width="1"/><text x="554.20" y="1427.44" text-anchor="end" >0.6</text><line x1="557.50" y1="1442.50" x2="776.60" y2="1442.50" stroke="#171920" stroke-width="1"/><text x="554.20" y="1445.10" text-anchor="end" >0.5</text><line x1="557.50" y1="1460.50" x2="776.60" y2="1460.50" stroke="#171920" stroke-width="1"/><text x="554.20" y="1462.76" text-anchor="end" >0.4</text><line x1="557.50" y1="1478.50" x2="776.60" y2="1478.50" stroke="#171920" stroke-width="1"/><text x="554.20" y="1480.42" text-anchor="end" >0.3</text><line x1="557.50" y1="1495.50" x2="776.60" y2="1495.50" stroke="#171920" stroke-width="1"/><text x="554.20" y="1498.08" text-anchor="end" >0.2</text><line x1="557.50" y1="1513.50" x2="776.60" y2="1513.50" stroke="#171920" stroke-width="1"/><text x="554.20" y="1515.74" text-anchor="end" >0.1</text><line x1="557.50" y1="1531.50" x2="776.60" y2="1531.50" stroke="#171920" stroke-width="1"/><text x="554.20" y="1533.40" text-anchor="end" >0</text><line x1="566.50" y1="1354.20" x2="566.50" y2="1530.80" stroke="#14161c" stroke-width="1"/><rect x="985.70" y="1313.30" width="40.8" height="12" fill="rgba(255,99,99,0.5)" stroke="#c44b4b" stroke-width="1"/><text x="1031.70" y="1322.60" text-anchor="start" >Revenues par Jour</text><line x1="878.60" y1="1335.50" x2="1279.20" y2="1335.50" stroke="#171920" stroke-width="1"/><text x="875.20" y="1337.90" text-anchor="end" >1.0</text><line x1="878.60" y1="1364.50" x2="1279.20" y2="1364.50" stroke="#171920" stroke-width="1"/><text x="875.20" y="1366.42" text-anchor="end" >0.8</text><line x1="878.60" y1="1392.50" x2="1279.20" y2="1392.50" stroke="#171920" stroke-width="1"/><text x="875.20" y="1394.94" text-anchor="end" >0.6</text><line x1="878.60" y1="1421.50" x2="1279.20" y2="1421.50" stroke="#171920" stroke-width="1"/><text x="875.20" y="1423.46" text-anchor="end" >0.4</text><line x1="878.60" y1="1449.50" x2="1279.20" y2="1449.50" stroke="#171920" stroke-width="1"/><text x="875.20" y="1451.98" text-anchor="end" >0.2</text><line x1="878.60" y1="1478.50" x2="1279.20" y2="1478.50" stroke="#171920" stroke-width="1"/><text x="875.20" y="1480.50" text-anchor="end" >0</text><line x1="886.50" y1="1335.30" x2="886.50" y2="1477.90" stroke="#14161c" stroke-width="1"/><line x1="886.50" y1="1335.30" x2="886.50" y2="1485.50" stroke="#14161c" stroke-width="1"/><line x1="930.50" y1="1335.30" x2="930.50" y2="1485.50" stroke="#171920" stroke-width="1"/><line x1="973.50" y1="1335.30" x2="973.50" y2="1485.50" stroke="#171920" stroke-width="1"/><line x1="1017.50" y1="1335.30" x2="1017.50" y2="1485.50" stroke="#171920" stroke-width="1"/><line x1="1061.50" y1="1335.30" x2="1061.50" y2="1485.50" stroke="#171920" stroke-width="1"/><line x1="1104.50" y1="1335.30" x2="1104.50" y2="1485.50" stroke="#171920" stroke-width="1"/><line x1="1148.50" y1="1335.30" x2="1148.50" y2="1485.50" stroke="#171920" stroke-width="1"/><line x1="1192.50" y1="1335.30" x2="1192.50" y2="1485.50" stroke="#171920" stroke-width="1"/><line x1="1236.50" y1="1335.30" x2="1236.50" y2="1485.50" stroke="#171920" stroke-width="1"/><line x1="1279.50" y1="1335.30" x2="1279.50" y2="1485.50" stroke="#171920" stroke-width="1"/><line x1="885.9" y1="1477.9" x2="1279.2" y2="1477.9" stroke="#8f3a3e" stroke-width="2.2"/><circle cx="885.90" cy="1477.9" r="3.3" fill="rgba(217,83,79,0.85)" stroke="#d9534f" stroke-width="1"/><circle cx="929.60" cy="1477.9" r="3.3" fill="rgba(92,184,92,0.55)" stroke="#5cb85c" stroke-width="1"/><circle cx="973.30" cy="1477.9" r="3.3" fill="rgba(217,83,79,0.85)" stroke="#d9534f" stroke-width="1"/><circle cx="1017.00" cy="1477.9" r="3.3" fill="rgba(92,184,92,0.55)" stroke="#5cb85c" stroke-width="1"/><circle cx="1060.70" cy="1477.9" r="3.3" fill="rgba(217,83,79,0.85)" stroke="#d9534f" stroke-width="1"/><circle cx="1104.40" cy="1477.9" r="3.3" fill="rgba(92,184,92,0.55)" stroke="#5cb85c" stroke-width="1"/><circle cx="1148.10" cy="1477.9" r="3.3" fill="rgba(217,83,79,0.85)" stroke="#d9534f" stroke-width="1"/><circle cx="1191.80" cy="1477.9" r="3.3" fill="rgba(92,184,92,0.55)" stroke="#5cb85c" stroke-width="1"/><circle cx="1235.50" cy="1477.9" r="3.3" fill="rgba(217,83,79,0.85)" stroke="#d9534f" stroke-width="1"/><circle cx="1279.20" cy="1477.9" r="3.3" fill="rgba(92,184,92,0.55)" stroke="#5cb85c" stroke-width="1"/><text transform="translate(891.50,1499.30) rotate(-26)" text-anchor="end">02-09-2023</text><text transform="translate(935.20,1499.30) rotate(-26)" text-anchor="end">01-09-2023</text><text transform="translate(978.90,1499.30) rotate(-26)" text-anchor="end">31-08-2023</text><text transform="translate(1022.60,1499.30) rotate(-26)" text-anchor="end">30-08-2023</text><text transform="translate(1066.30,1499.30) rotate(-26)" text-anchor="end">29-08-2023</text><text transform="translate(1110.00,1499.30) rotate(-26)" text-anchor="end">28-08-2023</text><text transform="translate(1153.70,1499.30) rotate(-26)" text-anchor="end">27-08-2023</text><text transform="translate(1197.40,1499.30) rotate(-26)" text-anchor="end">26-08-2023</text><text transform="translate(1241.10,1499.30) rotate(-26)" text-anchor="end">25-08-2023</text><text transform="translate(1284.80,1499.30) rotate(-26)" text-anchor="end">24-08-2023</text></svg>
</body></html>
